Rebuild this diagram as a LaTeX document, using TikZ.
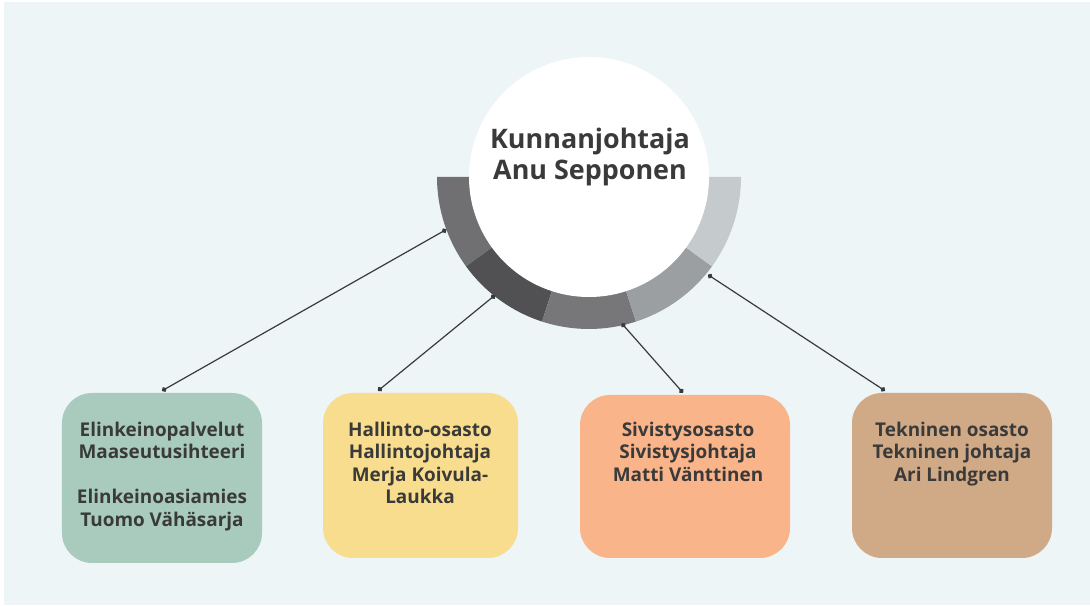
\documentclass[tikz,border=0pt]{standalone}
\usepackage{fontspec}
\setmainfont{Open Sans}
\usetikzlibrary{arrows.meta}
\definecolor{bgc}{HTML}{EEF5F7}
\definecolor{txt}{HTML}{3A3A3A}
\definecolor{lnk}{HTML}{3A3A3A}
\definecolor{sg1}{HTML}{707073}
\definecolor{sg2}{HTML}{515154}
\definecolor{sg3}{HTML}{77777A}
\definecolor{sg4}{HTML}{9C9FA2}
\definecolor{sg5}{HTML}{C5CACD}
\definecolor{green}{HTML}{A8CBBD}
\definecolor{yellow}{HTML}{F7DD8D}
\definecolor{peach}{HTML}{F9B489}
\definecolor{tan}{HTML}{D0AA86}

\begin{document}
\begin{tikzpicture}[x=1bp,y=1bp,
  deptbox/.style={fill=#1, rounded corners=30bp, inner sep=0pt},
  deptext/.style={font=\bfseries\fontsize{19}{22.5}\selectfont, text=txt, align=center, anchor=north, inner sep=0pt},
  link/.style={draw=lnk, line width=1.2bp, {Circle[length=5bp]}-{Circle[length=5bp]}}]

\useasboundingbox (0,0) rectangle (1090,606);
\fill[white] (0,0) rectangle (1090,606);
\fill[bgc] (4,1) rectangle (1090,604);

\coordinate (ctr) at (589,429);
\fill[sg1] (ctr) -- ++(180:152) arc[start angle=180, end angle=216, radius=152] -- cycle;
\fill[sg2] (ctr) -- ++(216:152) arc[start angle=216, end angle=252, radius=152] -- cycle;
\fill[sg3] (ctr) -- ++(252:152) arc[start angle=252, end angle=288, radius=152] -- cycle;
\fill[sg4] (ctr) -- ++(288:152) arc[start angle=288, end angle=324, radius=152] -- cycle;
\fill[sg5] (ctr) -- ++(324:152) arc[start angle=324, end angle=360, radius=152] -- cycle;

\node[circle, fill=white, minimum size=240bp, inner sep=0pt] (chief) at (ctr) {};
\node[font=\bfseries\fontsize{27}{32}\selectfont, text=txt, align=center] (title) at (590,449) {Kunnanjohtaja\\Anu Sepponen};

\node[deptbox=green, minimum width=200bp, minimum height=170bp] (box1) at (162,128) {};
\node[deptbox=yellow, minimum width=195bp, minimum height=165bp] (box2) at (420.5,130.5) {};
\node[deptbox=peach, minimum width=210bp, minimum height=163bp] (box3) at (685,129.5) {};
\node[deptbox=tan, minimum width=200bp, minimum height=165bp] (box4) at (952,130.5) {};

\node[deptext] (t1) at (162,184) {Elinkeinopalvelut\\Maaseutusihteeri\\[22.5bp]Elinkeinoasiamies\\Tuomo Vähäsarja};
\node[deptext] (t2) at (420,184) {Hallinto-osasto\\Hallintojohtaja\\Merja Koivula-\\Laukka};
\node[deptext] (t3) at (688,184) {Sivistysosasto\\Sivistysjohtaja\\Matti Vänttinen};
\node[deptext] (t4) at (952,184) {Tekninen osasto\\Tekninen johtaja\\Ari Lindgren};

\coordinate (r1) at ([shift={(200.2:152)}]ctr);
\coordinate (r2) at ([shift={(231.5:151)}]ctr);
\coordinate (r3) at ([shift={(282.6:150)}]ctr);
\coordinate (r4) at ([shift={(320.6:154)}]ctr);
\coordinate (b1) at ([yshift=2bp]box1.north);
\coordinate (b2) at ([xshift=-42.5bp, yshift=2bp]box2.north);
\coordinate (b3) at ([xshift=-2bp, yshift=2bp]box3.north);
\coordinate (b4) at ([xshift=-67bp, yshift=2bp]box4.north);
\draw[link] (r1) -- (b1);
\draw[link] (r2) -- (b2);
\draw[link] (r3) -- (b3);
\draw[link] (r4) -- (b4);
\end{tikzpicture}
\end{document}
